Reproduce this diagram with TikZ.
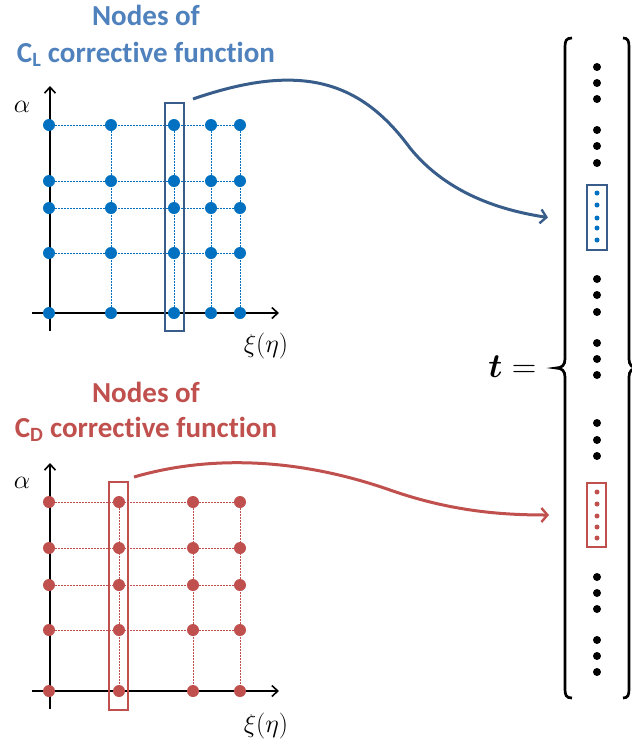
\RequirePackage{fix-cm}
\documentclass[tikz,border=0pt]{standalone}
\usepackage{amsmath,amssymb}
\usepackage{fontspec}
\newfontfamily\calib[Ligatures=NoCommon]{Carlito}
\usetikzlibrary{calc,arrows.meta}
\definecolor{blueL}{RGB}{0,112,192}
\definecolor{blueLtxt}{RGB}{79,129,189}
\definecolor{blueLbox}{RGB}{56,93,138}
\definecolor{redD}{RGB}{192,80,77}
\tikzset{
  axis/.style={line width=1.9pt,-{Straight Barb[length=6pt,width=11pt,line width=1.6pt]}},
  gridline/.style={line width=0.8pt,dash pattern=on 2pt off 1pt},
  selbox/.style={draw,line width=2pt,inner sep=0pt,minimum width=#1},
  mapto/.style={line width=3pt,-{Straight Barb[length=6pt,width=14pt,line width=2.4pt]}},
  title/.style={font=\calib\bfseries\fontsize{29}{36}\selectfont,anchor=base},
  mlabel/.style={font=\fontsize{26}{30}\selectfont,anchor=base},
}
\begin{document}
\begin{tikzpicture}[x=1pt,y=-1pt]
      \useasboundingbox (0,0) rectangle (632,740);
      % C_L grid
      \foreach \y in {125,181,208,253,313} \draw[gridline,blueL] (49,\y) -- (240,\y);
      \foreach \x in {111,174,211,240} \draw[gridline,blueL] (\x,125) -- (\x,313);
      \draw[axis] (32,313) -- (279,313);
      \draw[axis] (50,331) -- (50,86);
      \foreach \x in {49,111,174,211,240}
        \foreach \y in {125,181,208,253,313} \fill[blueL] (\x,\y) circle (6pt);
      \node[selbox=19pt,minimum height=228pt,blueLbox] (gridboxL) at (174.5,217) {};
      \node[mlabel] (alphaL) at (22,112) {$\alpha$};
      \node[mlabel] (xiL) at (266,352) {$\xi(\eta)$};
      \node[title,blueLtxt] (titleL) at (146,25) {Nodes of};
      \node[title,blueLtxt] (subtitleL) at (146,62) {C\textsubscript{L} corrective function};
      % C_D grid
      \foreach \y in {502,548,585,630,691} \draw[gridline,redD] (49,\y) -- (240,\y);
      \foreach \x in {119,193,240} \draw[gridline,redD] (\x,502) -- (\x,691);
      \draw[axis] (32,691) -- (279,691);
      \draw[axis] (50,709) -- (50,463);
      \foreach \x in {49,119,193,240}
        \foreach \y in {502,548,585,630,691} \fill[redD] (\x,\y) circle (6pt);
      \node[selbox=19pt,minimum height=228pt,redD] (gridboxD) at (118.5,596) {};
      \node[mlabel] (alphaD) at (22,488) {$\alpha$};
      \node[mlabel] (xiD) at (266,732) {$\xi(\eta)$};
      \node[title,redD] (titleD) at (146,402) {Nodes of};
      \node[title,redD] (subtitleD) at (146,437) {C\textsubscript{D} corrective function};
      % vector t
      \draw[line width=2.7pt] (572,38) .. controls (566,38) and (565,41) .. (565,47) -- (565,359)
        .. controls (565,365) and (562,368) .. (556,368) .. controls (562,368) and (565,371) .. (565,377)
        -- (565,689) .. controls (565,695) and (566,698) .. (572,698);
      \draw[line width=2.7pt] (623,38) .. controls (628,38) and (629,41) .. (629,47) -- (629,359)
        .. controls (629,365) and (632,368) .. (638,368) .. controls (632,368) and (629,371) .. (629,377)
        -- (629,689) .. controls (629,695) and (628,698) .. (623,698);
      \foreach \y in {67,83,99,130,146,163,279,295,312,343,359,375,423,440,456,577,593,609,640,656,672}
        \fill (597,\y) circle (4pt);
      \node[selbox=20pt,minimum height=65pt,blueLbox] (vecL) at (597,217.5) {};
      \foreach \y in {193,205,218,228,240} \fill[blueL] (597,\y) circle (2.5pt);
      \node[selbox=19pt,minimum height=64pt,redD] (vecD) at (596.5,515) {};
      \foreach \y in {492,504,516,527,538} \fill[redD] (597,\y) circle (2.5pt);
      \node[font=\fontsize{34}{40}\selectfont,anchor=base east] (teq) at (540,377) {$\boldsymbol{t}=$};
      % mappings
      \coordinate (startL) at ([xshift=8pt,yshift=3pt]gridboxL.north east);
      \coordinate (endL) at ([xshift=-38pt]vecL.west);
      \draw[mapto,blueLbox] (startL) .. controls (300,62) and (360,80) .. (410,148)
        .. controls (440,185) and (485,208) .. (endL);
      \coordinate (startD) at ([xshift=5pt,yshift=4pt]gridboxD.north east);
      \coordinate (endD) at ([xshift=-37pt]vecD.west);
      \draw[mapto,redD] (startD) .. controls (220,452) and (310,462) .. (390,490)
        .. controls (450,511) and (500,515) .. (endD);
    \end{tikzpicture}
\end{document}
